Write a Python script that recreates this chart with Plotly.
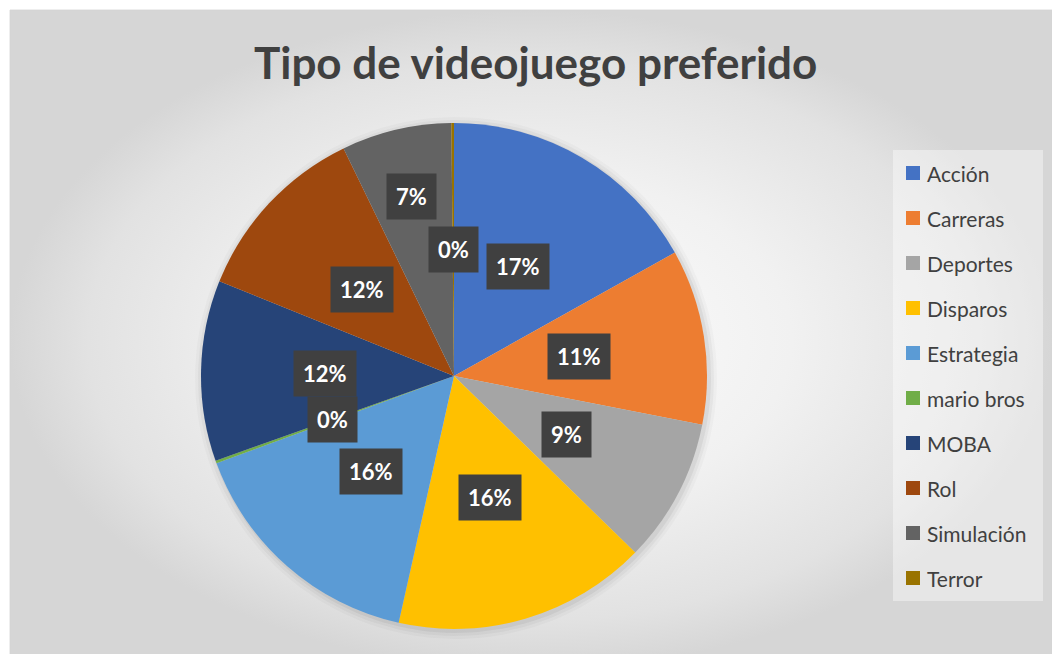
import numpy as np
import plotly.graph_objects as go

categories = ["Acción", "Carreras", "Deportes", "Disparos", "Estrategia",
              "mario bros", "MOBA", "Rol", "Simulación", "Terror"]
values = [101, 67, 55, 97, 95, 1, 69, 70, 42, 1]
colors = ["#4472C4", "#ED7D31", "#A5A5A5", "#FFC000", "#5B9BD5",
          "#70AD47", "#264478", "#9E480E", "#636363", "#997300"]
label_radius = [0.5, 0.5, 0.5, 0.5, 0.5, 0.51, 0.51, 0.5, 0.73, 0.5]

W, H = 1060, 654
OFF = 8  # page body margin


def px(x):
    return x - OFF


def py(y):
    return H - (y - OFF)


cx, cy, R = px(454), py(376), 253

fig = go.Figure()

# background chart area with radial gradient
fig.add_trace(go.Scatter(
    x=[px(10), px(1052), px(1052), px(10), px(10)],
    y=[py(670), py(670), py(10), py(10), py(670)],
    mode="lines", fill="toself", line=dict(width=0.8, color="#d4d4d4"),
    fillgradient=dict(type="radial",
                      colorscale=[[0, "#fdfdfd"], [0.5, "#f1f1f1"], [0.85, "#e2e2e2"], [1, "#d6d6d6"]]),
    hoverinfo="skip", showlegend=False))

# soft shadow behind pie
t = np.linspace(0, 2 * np.pi, 200)
for dr, a in [(8, 0.025), (5, 0.035), (2, 0.05)]:
    fig.add_trace(go.Scatter(
        x=cx + 2 + (R + dr) * np.cos(t), y=cy - 2 + (R + dr) * np.sin(t),
        mode="lines", fill="toself", line=dict(width=0),
        fillcolor=f"rgba(0,0,0,{a})", hoverinfo="skip", showlegend=False))

fig.add_trace(go.Pie(
    labels=categories, values=values, sort=False, direction="clockwise",
    rotation=0, marker=dict(colors=colors, line=dict(width=0)),
    textinfo="none", showlegend=False,
    domain=dict(x=[(cx - R) / W, (cx + R) / W], y=[(cy - R) / H, (cy + R) / H])))

total = sum(values)
cum = np.cumsum([0] + values)
annotations = []
for i, v in enumerate(values):
    mid = (cum[i] + v / 2) / total * 2 * np.pi
    rr = label_radius[i] * R
    annotations.append(dict(
        x=cx + rr * np.sin(mid), y=cy + rr * np.cos(mid), xref="x", yref="y",
        text=f"<b>{round(v / total * 100)}%</b>", showarrow=False,
        font=dict(family="Lato", size=22, color="white"),
        bgcolor="#404040", borderpad=9))

# legend
shapes = [dict(type="rect", xref="x", yref="y", x0=px(893), x1=px(1043), y0=py(601), y1=py(150),
               fillcolor="rgba(255,255,255,0.4)", line=dict(width=0), layer="above")]
for i, c in enumerate(categories):
    yc = py(173 + i * 45)
    shapes.append(dict(type="rect", xref="x", yref="y", x0=px(906), x1=px(920), y0=yc - 7, y1=yc + 7,
                       fillcolor=colors[i], line=dict(width=0), layer="above"))
    annotations.append(dict(x=px(925), y=yc, xref="x", yref="y", text=c, showarrow=False,
                            xanchor="left", yanchor="middle",
                            font=dict(family="Lato", size=21, color="#404040")))

annotations.append(dict(x=px(535), y=py(62), xref="x", yref="y",
                        text="<b>Tipo de videojuego preferido</b>", showarrow=False,
                        font=dict(family="Lato", size=44, color="#404040")))

fig.update_layout(
    width=W, height=H, margin=dict(l=0, r=0, t=0, b=0),
    paper_bgcolor="white", plot_bgcolor="rgba(0,0,0,0)",
    xaxis=dict(range=[0, W], visible=False, fixedrange=True),
    yaxis=dict(range=[0, H], visible=False, fixedrange=True),
    annotations=annotations, shapes=shapes, showlegend=False)

fig.write_html("out.html")
